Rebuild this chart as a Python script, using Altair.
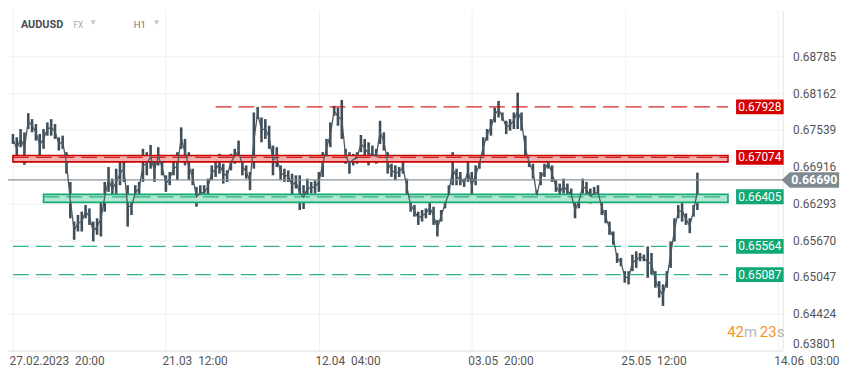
import altair as alt
import pandas as pd

# ---- price samples (high / low of each ~4px column of H1 candles)
hi = [0.67469,0.67413,0.67553,0.67497,0.67822,0.67721,0.67637,0.67469,0.67553,0.67665,
      0.67721,0.67637,0.67413,0.67441,0.67161,0.66657,0.65985,0.66097,0.66153,0.66265,
      0.66209,0.65985,0.66041,0.66321,0.66657,0.66909,0.66713,0.66881,0.66993,0.67105,
      0.66601,0.66377,0.66601,0.66657,0.67217,0.67161,0.67284,0.67049,0.67245,0.67049,
      0.66769,0.66825,0.66993,0.67161,0.67581,0.67385,0.67161,0.66881,0.66573,0.66601,
      0.66601,0.66713,0.66937,0.66993,0.67133,0.66965,0.66853,0.67133,0.67217,0.67357,
      0.67077,0.66937,0.66825,0.67833,0.67928,0.67749,0.67721,0.67609,0.67273,0.67245,
      0.66937,0.66881,0.66853,0.66797,0.66769,0.66769,0.66601,0.66713,0.66657,0.66685,
      0.66825,0.67161,0.67385,0.67665,0.67945,0.67917,0.68046,0.67217,0.67161,0.67133,
      0.67161,0.67452,0.67385,0.67329,0.67273,0.67217,0.67693,0.67497,0.67161,0.66965,
      0.66937,0.66909,0.67021,0.66713,0.66377,0.66265,0.66153,0.66181,0.66209,0.66349,
      0.66237,0.66013,0.66181,0.66349,0.66601,0.67161,0.66881,0.66825,0.66713,0.67021,
      0.66825,0.66937,0.67049,0.67413,0.67553,0.67721,0.67917,0.68029,0.67833,0.67693,
      0.67721,0.67833,0.68169,0.67833,0.67441,0.67049,0.66965,0.66517,0.66825,0.66965,
      0.67094,0.66937,0.66685,0.66629,0.66713,0.66629,0.66545,0.66321,0.66433,0.66713,
      0.66657,0.66545,0.66573,0.66601,0.66349,0.66181,0.65985,0.65817,0.65453,0.65369,
      0.65145,0.65145,0.65425,0.65481,0.65453,0.65425,0.65565,0.65453,0.65145,0.64977,
      0.64921,0.65145,0.65649,0.66041,0.66265,0.66349,0.66125,0.66041,0.66265,0.66814]
lo = [0.67301,0.67021,0.67245,0.66948,0.67553,0.67497,0.67357,0.67105,0.67217,0.67441,
      0.67441,0.67385,0.67189,0.67217,0.66797,0.66041,0.65677,0.65817,0.65817,0.66041,
      0.65929,0.65649,0.65761,0.65733,0.66153,0.66489,0.66349,0.66433,0.66601,0.66657,
      0.65901,0.66097,0.66349,0.66433,0.66657,0.66769,0.66881,0.66657,0.66937,0.66769,
      0.66489,0.66601,0.66769,0.66685,0.67217,0.66937,0.66685,0.66601,0.66237,0.66349,
      0.66349,0.66433,0.66685,0.66741,0.66797,0.66629,0.66657,0.66853,0.66965,0.67021,
      0.66769,0.66713,0.66517,0.66881,0.67721,0.67329,0.67385,0.67217,0.66769,0.66909,
      0.66685,0.66657,0.66657,0.66405,0.66545,0.66181,0.66198,0.66377,0.66461,0.66461,
      0.66489,0.66741,0.67077,0.67245,0.67777,0.67609,0.67385,0.66965,0.66797,0.66937,
      0.66965,0.67161,0.67077,0.66937,0.66993,0.66965,0.67301,0.67189,0.66797,0.66741,
      0.66685,0.66741,0.66797,0.66433,0.66153,0.66069,0.65929,0.65985,0.66041,0.66097,
      0.65929,0.65733,0.65985,0.66209,0.66321,0.66601,0.66601,0.66601,0.66573,0.66657,
      0.66377,0.66601,0.66881,0.67077,0.67357,0.67441,0.67665,0.67749,0.67693,0.67469,
      0.67525,0.67553,0.67553,0.67525,0.67021,0.66909,0.66713,0.66349,0.66601,0.66741,
      0.66881,0.66657,0.66489,0.66321,0.66461,0.66377,0.66349,0.66041,0.66209,0.66461,
      0.66405,0.66293,0.66349,0.66377,0.66097,0.65957,0.65761,0.65593,0.65285,0.65229,
      0.64949,0.64921,0.65145,0.65201,0.65313,0.65313,0.65033,0.65089,0.64865,0.64697,
      0.64557,0.64865,0.65201,0.65649,0.66041,0.65985,0.65929,0.65789,0.66069,0.66181]

x_ticks = [0, 40, 80, 120, 160, 200]
x_labels = ["27.02.2023\u00a0 20:00", "21.03\u00a0 12:00", "12.04\u00a0 04:00",
            "03.05\u00a0 20:00", "25.05\u00a0 12:00", "14.06\u00a0 03:00"]
y_ticks = [0.63801, 0.64424, 0.65047, 0.65670, 0.66293, 0.66916, 0.67539, 0.68162, 0.68785]

level_prices = [0.67928, 0.67074, 0.66405, 0.65564, 0.65087]
level_labels = ["0.67928", "0.67074", "0.66405", "0.65564", "0.65087"]
level_colors = ["#d40000", "#d40000", "#10a874", "#10a874", "#10a874"]
level_start = [53, 0, 8, 0, 0]
level_end = 187

zone_top = [0.67106, 0.66446]
zone_bottom = [0.66997, 0.66311]
zone_start = [0, 8]
zone_fill = ["#f3b0b0", "#b2e8d2"]
zone_stroke = ["#cc0000", "#15aa74"]

last_price = 0.66690
last_label = "0.66690"

FONT = "Roboto"
xscale = alt.Scale(domain=[0, 200], nice=False, zero=False)
yscale = alt.Scale(domain=[0.63801, 0.69574], nice=False, zero=False)

df = pd.DataFrame({"i": list(range(len(hi))), "hi": hi, "lo": lo})

label_expr = "[" + ",".join("'" + s + "'" for s in x_labels) + "][round(datum.value / 40)]"

x_axis = alt.Axis(values=x_ticks, labelExpr=label_expr, labelAlign="left", labelPadding=5,
                  labelOffset=-4,
                  ticks=False, grid=True, gridColor="#f0f0f0", domainColor="#e4e4e4",
                  labelColor="#555555", labelFont=FONT, labelFontSize=12, title=None,
                  labelOverlap=False, labelBound=False, labelFlush=False)
y_axis = alt.Axis(values=y_ticks, format=".5f", orient="right", ticks=False, labelPadding=10,
                  grid=True, gridColor="#f0f0f0", domainColor="#e4e4e4",
                  labelColor="#555555", labelFont=FONT, labelFontSize=12, title=None,
                  labelBaseline={"condition": {"test": "datum.value < 0.64", "value": "bottom"},
                                 "value": "middle"})


def X(field):
    return alt.X(field, scale=xscale, axis=x_axis, title=None)


def Y(field):
    return alt.Y(field, scale=yscale, axis=y_axis, title=None)


# zones
zones = pd.DataFrame({"top": zone_top, "bot": zone_bottom, "x0": zone_start,
                      "x1": [level_end] * 2, "fill": zone_fill, "stroke": zone_stroke})
zone_layer = alt.Chart(zones).mark_rect(strokeWidth=1.6, opacity=1).encode(
    x=X("x0:Q"), x2="x1:Q", y=Y("top:Q"), y2="bot:Q",
    fill=alt.Fill("fill:N", scale=None), stroke=alt.Stroke("stroke:N", scale=None))

# level lines
levels = pd.DataFrame({"price": level_prices, "label": level_labels, "color": level_colors,
                       "x0": level_start, "x1": [level_end] * len(level_prices)})
level_layer = alt.Chart(levels).mark_rule(strokeDash=[16, 7], strokeWidth=1.3, opacity=0.85).encode(
    x=X("x0:Q"), x2="x1:Q", y=Y("price:Q"),
    color=alt.Color("color:N", scale=None))

# last price line
last_df = pd.DataFrame({"price": [last_price], "label": [last_label]})
last_line = alt.Chart(last_df).mark_rule(color="#87929a", strokeWidth=1.3).encode(
    x=alt.value(0), x2=alt.value(782), y=Y("price:Q"))

# price bars
bars = alt.Chart(df).mark_bar(width=2.6, color="#3f4e58").encode(
    x=X("i:Q"), y=Y("hi:Q"), y2="lo:Q")
mid = alt.Chart(df).transform_calculate(mid="(datum.hi + datum.lo) / 2").mark_line(
    color="#4a5962", strokeWidth=1.3).encode(x=X("i:Q"), y=Y("mid:Q"))

# label boxes
box_path = "M-1,-0.3125L1,-0.3125L1,0.3125L-1,0.3125Z"
box_layer = alt.Chart(levels).mark_point(shape=box_path, size=2304, filled=True, opacity=1,
                                         strokeWidth=0).encode(
    x=alt.value(759), y=Y("price:Q"), color=alt.Color("color:N", scale=None))
box_text = alt.Chart(levels).mark_text(color="white", font=FONT, fontSize=12).encode(
    x=alt.value(759), y=Y("price:Q"), text="label:N")

arrow_path = "M-1,0L-0.72,-0.27L1,-0.27L1,0.27L-0.72,0.27Z"
last_box = alt.Chart(last_df).mark_point(shape=arrow_path, size=3364, filled=True, opacity=1,
                                         strokeWidth=0, color="#7f8a90").encode(
    x=alt.value(810), y=Y("price:Q"))
last_text = alt.Chart(last_df).mark_text(color="white", font=FONT, fontSize=12.5,
                                         fontWeight="bold").encode(
    x=alt.value(814), y=Y("price:Q"), text="label:N")


# header and countdown
def txt(s, x, y, size, color, weight="normal", align="left"):
    return alt.Chart(pd.DataFrame({"t": [s]})).mark_text(
        font=FONT, fontSize=size, color=color, fontWeight=weight, align=align,
        baseline="middle").encode(x=alt.value(x), y=alt.value(y), text="t:N")


def tri(x, y):
    return alt.Chart(pd.DataFrame({"t": [0]})).mark_point(
        shape="triangle-down", size=28, filled=True, color="#c4c4c4", opacity=1).encode(
        x=alt.value(x), y=alt.value(y))


header = [txt("AUDUSD", 13, 15, 11, "#4d4d4d", "bold"),
          txt("FX", 66, 15, 8.5, "#a8a8a8"),
          tri(86, 13),
          txt("H1", 127, 15, 9.5, "#777777"),
          tri(150, 13)]
countdown = [txt("42", 726, 325, 15, "#f5941f"),
             txt("m", 743, 325, 15, "#b5b5b5"),
             txt("23", 759, 325, 15, "#f5941f"),
             txt("s", 776, 325, 15, "#b5b5b5")]

chart = alt.layer(
    bars, zone_layer, level_layer, last_line, mid, box_layer, box_text, last_box, last_text,
    *header, *countdown
).properties(
    width=782, height=344,
    autosize=alt.AutoSizeParams(type="none"),
    padding={"left": 0, "top": 0, "right": 69, "bottom": 26},
    background="white",
).configure_view(strokeWidth=0)

chart.save("out.html", embed_options={"renderer": "svg", "actions": False})
